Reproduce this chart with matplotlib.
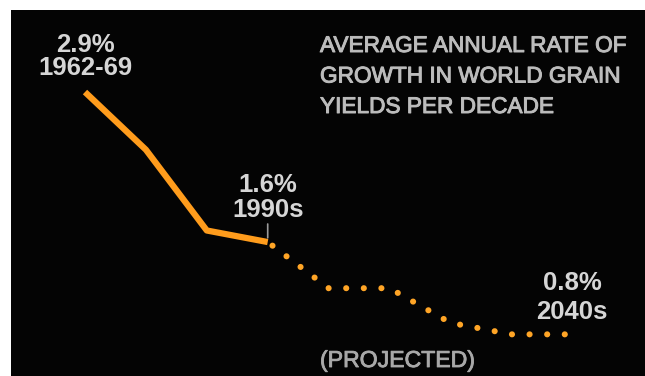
import matplotlib.pyplot as plt
import matplotlib.patheffects as pe

# decades on the x axis, as index positions
decades = ['1960s', '1970s', '1980s', '1990s', '2000s', '2010s', '2020s', '2030s', '2040s']
actual_idx = [0, 1, 2, 3]
actual_rate = [2.9, 2.4, 1.7, 1.6]
proj_idx = [3, 4, 5, 6, 7, 8]
proj_rate = [1.6, 1.2, 1.2, 0.9, 0.8, 0.8]

# callouts: (index, rate, top line, bottom line, top offset pt, bottom offset pt)
callouts = [
    (0, 2.9, '2.9%', '1962-69', 29, 12),
    (3, 1.6, '1.6%', '1990s', 36, 18),
    (8, 0.8, '0.8%', '2040s', 32, 11),
]
title_lines = ['AVERAGE ANNUAL RATE OF', 'GROWTH IN WORLD GRAIN', 'YIELDS PER DECADE']

orange = '#ff9c1c'
plt.rcParams['font.family'] = ['Liberation Sans', 'DejaVu Sans']

fig = plt.figure(figsize=(6.45, 3.76), dpi=100, facecolor='white')
ax = fig.add_axes([11 / 645, 0, 634 / 645, 366 / 376])
ax.set_facecolor('#040404')
ax.set_xlim(-1.215, 9.195)
ax.set_ylim(0.439, 3.611)
for s in ax.spines.values():
    s.set_visible(False)
ax.set_xticks([])
ax.set_yticks([])

ax.plot(actual_idx, actual_rate, color=orange, lw=4.5, solid_joinstyle='round',
        solid_capstyle='butt', zorder=3)
ax.plot(proj_idx, proj_rate, color='#ffa526', lw=4.4,
        linestyle=(1.9, (0.01, 2.87)), dash_capstyle='round', zorder=3)

for i, v, top, bottom, o1, o2 in callouts:
    ax.annotate(top, (i, v), xytext=(0, o1), textcoords='offset points',
                ha='center', va='baseline', fontsize=18.5, fontweight='bold',
                color='#d6d6d6')
    ax.annotate(bottom, (i, v), xytext=(0, o2), textcoords='offset points',
                ha='center', va='baseline', fontsize=18.5, fontweight='bold',
                color='#d6d6d6')

# small tick under the 1990s label
ax.annotate('', xy=(3, 1.6), xytext=(0, 13), textcoords='offset points',
            arrowprops=dict(arrowstyle='-', color='#9a9a9a', lw=1.2,
                            shrinkA=0, shrinkB=3))

# slightly heavier than regular weight
thick = [pe.withStroke(linewidth=0.7, foreground='#bcbcbc')]
for k, line in enumerate(title_lines):
    fig.text(320 / 645, 1 - (52 + 30.5 * k) / 376, line, ha='left', va='baseline',
             fontsize=16.3, color='#bcbcbc', path_effects=thick)

fig.text(320 / 645, 1 - 367 / 376, '(PROJECTED)', ha='left', va='baseline',
         fontsize=16.6, color='#a8a8a8',
         path_effects=[pe.withStroke(linewidth=0.6, foreground='#a8a8a8')])

fig.savefig('out.png', dpi=100, facecolor='white')
